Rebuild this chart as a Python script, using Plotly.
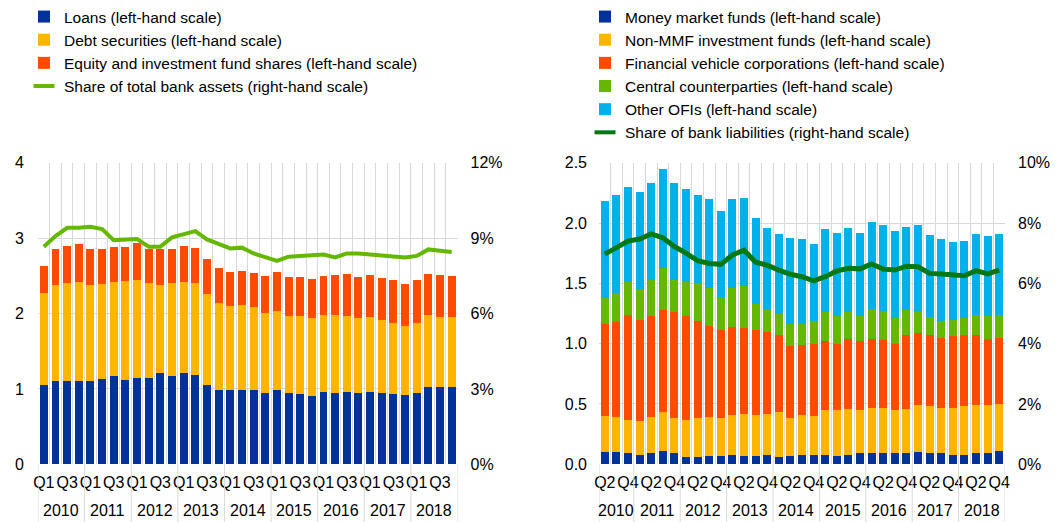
import plotly.graph_objects as go

# ---------------- data ----------------
left_years = list(range(2010, 2019))
left_periods = [f"{y} Q{q}" for y in left_years for q in (1, 2, 3, 4)]
right_years = list(range(2010, 2019))
right_periods = [f"{y} Q{q}" for y in right_years for q in (1, 2, 3, 4)][1:]

loans = [1.05, 1.11, 1.10, 1.11, 1.11, 1.13, 1.17, 1.12, 1.14, 1.14, 1.21, 1.17,
         1.21, 1.18, 1.05, 0.98, 0.98, 0.99, 0.99, 0.94, 0.99, 0.95, 0.93, 0.91,
         0.96, 0.95, 0.96, 0.95, 0.96, 0.94, 0.93, 0.92, 0.95, 1.03, 1.02, 1.03]
debt = [1.22, 1.27, 1.30, 1.31, 1.27, 1.26, 1.25, 1.31, 1.31, 1.26, 1.17, 1.23,
        1.21, 1.23, 1.21, 1.16, 1.12, 1.12, 1.09, 1.07, 1.04, 1.02, 1.04, 1.03,
        1.02, 1.03, 1.01, 0.99, 1.00, 0.98, 0.95, 0.92, 0.92, 0.95, 0.93, 0.93]
equity = [0.36, 0.48, 0.50, 0.50, 0.48, 0.47, 0.46, 0.45, 0.48, 0.46, 0.47, 0.46,
          0.48, 0.46, 0.46, 0.46, 0.45, 0.46, 0.46, 0.49, 0.52, 0.52, 0.51, 0.52,
          0.52, 0.53, 0.55, 0.55, 0.55, 0.55, 0.56, 0.55, 0.57, 0.55, 0.56, 0.54]
share_assets = [8.66, 9.08, 9.41, 9.41, 9.45, 9.36, 8.92, 8.94, 8.96, 8.66, 8.66, 9.03,
                9.15, 9.28, 8.95, 8.79, 8.59, 8.62, 8.39, 8.24, 8.09, 8.26, 8.29, 8.33,
                8.35, 8.23, 8.39, 8.39, 8.35, 8.31, 8.26, 8.23, 8.29, 8.55, 8.50, 8.45]

mmf = [0.10, 0.10, 0.09, 0.08, 0.09, 0.11, 0.09, 0.06, 0.06, 0.07, 0.07, 0.08,
       0.07, 0.07, 0.08, 0.06, 0.07, 0.08, 0.08, 0.08, 0.07, 0.08, 0.09, 0.09,
       0.09, 0.09, 0.09, 0.10, 0.09, 0.09, 0.08, 0.08, 0.09, 0.09, 0.11]
non_mmf = [0.30, 0.29, 0.28, 0.28, 0.30, 0.32, 0.29, 0.31, 0.32, 0.32, 0.31, 0.33,
           0.35, 0.34, 0.34, 0.37, 0.31, 0.33, 0.32, 0.37, 0.38, 0.38, 0.36, 0.38,
           0.38, 0.36, 0.37, 0.39, 0.39, 0.38, 0.39, 0.40, 0.40, 0.40, 0.39]
fvc = [0.76, 0.79, 0.87, 0.84, 0.84, 0.85, 0.88, 0.86, 0.81, 0.76, 0.73, 0.73,
       0.71, 0.70, 0.68, 0.64, 0.60, 0.58, 0.60, 0.57, 0.55, 0.58, 0.57, 0.57,
       0.56, 0.55, 0.61, 0.60, 0.59, 0.58, 0.59, 0.59, 0.58, 0.55, 0.55]
ccp = [0.22, 0.24, 0.27, 0.25, 0.30, 0.35, 0.27, 0.28, 0.31, 0.31, 0.27, 0.32,
       0.35, 0.22, 0.19, 0.18, 0.18, 0.17, 0.19, 0.24, 0.23, 0.22, 0.21, 0.25,
       0.24, 0.21, 0.21, 0.18, 0.15, 0.14, 0.14, 0.14, 0.17, 0.19, 0.19]
other_ofi = [0.80, 0.81, 0.79, 0.81, 0.80, 0.82, 0.80, 0.77, 0.73, 0.74, 0.72, 0.74,
             0.73, 0.71, 0.67, 0.66, 0.72, 0.71, 0.64, 0.69, 0.69, 0.70, 0.69, 0.72,
             0.71, 0.72, 0.69, 0.71, 0.68, 0.68, 0.64, 0.64, 0.67, 0.66, 0.67]
share_liab = [6.97, 7.19, 7.40, 7.47, 7.64, 7.51, 7.22, 7.00, 6.75, 6.66, 6.63, 6.94,
              7.10, 6.70, 6.60, 6.44, 6.30, 6.22, 6.08, 6.22, 6.41, 6.50, 6.48, 6.64,
              6.47, 6.44, 6.57, 6.55, 6.33, 6.31, 6.27, 6.25, 6.42, 6.31, 6.44]

left_pct_ticks = [0, 3, 6, 9, 12]
right_pct_ticks = [0, 2, 4, 6, 8, 10]

# ---------------- style ----------------
BLUE, YELLOW, RED, GREEN, CYAN, DGREEN = "#003299", "#FFB400", "#FF4B00", "#65B800", "#00B1EA", "#007816"
GRID = "#d9d9d9"
FONT = "Liberation Sans, Arial, sans-serif"
FS = 16
LFS = 15.5
W, H = 1059, 522
L_DOM = [38 / W, 457.5 / W]
R_DOM = [599 / W, 1005 / W]
Y_DOM = [(H - 464.3) / H, (H - 162.7) / H]

xl = list(range(len(left_periods)))
xr = list(range(len(right_periods)))

fig = go.Figure()

def add_bar(x, y, name, color, xa, ya, legend):
    fig.add_trace(go.Bar(x=x, y=y, name=name, marker=dict(color=color, line=dict(width=0)),
                         xaxis=xa, yaxis=ya, legend=legend))

add_bar(xl, loans, "Loans (left-hand scale)", BLUE, "x", "y", "legend")
add_bar(xl, debt, "Debt securities (left-hand scale)", YELLOW, "x", "y", "legend")
add_bar(xl, equity, "Equity and investment fund shares (left-hand scale)", RED, "x", "y", "legend")
fig.add_trace(go.Scatter(x=xl, y=share_assets, mode="lines", line=dict(color=GREEN, width=4),
                         xaxis="x", yaxis="y2", showlegend=False))
fig.add_trace(go.Scatter(x=[None], y=[None], mode="markers", name="Share of total bank assets (right-hand scale)",
                         marker=dict(symbol="line-ew", size=15, line=dict(color=GREEN, width=4)),
                         xaxis="x", yaxis="y2", legend="legend"))

add_bar(xr, mmf, "Money market funds (left-hand scale)", BLUE, "x2", "y3", "legend2")
add_bar(xr, non_mmf, "Non-MMF investment funds (left-hand scale)", YELLOW, "x2", "y3", "legend2")
add_bar(xr, fvc, "Financial vehicle corporations (left-hand scale)", RED, "x2", "y3", "legend2")
add_bar(xr, ccp, "Central counterparties (left-hand scale)", GREEN, "x2", "y3", "legend2")
add_bar(xr, other_ofi, "Other OFIs (left-hand scale)", CYAN, "x2", "y3", "legend2")
fig.add_trace(go.Scatter(x=xr, y=share_liab, mode="lines", line=dict(color=DGREEN, width=5),
                         xaxis="x2", yaxis="y4", showlegend=False))
fig.add_trace(go.Scatter(x=[None], y=[None], mode="markers", name="Share of bank liabilities (right-hand scale)",
                         marker=dict(symbol="line-ew", size=15, line=dict(color=DGREEN, width=4)),
                         xaxis="x2", yaxis="y4", legend="legend2"))

tickfont = dict(family=FONT, size=FS, color="#000")

def xaxis_cfg(dom, periods, anchor):
    n = len(periods)
    vals = list(range(0, n, 2))
    return dict(domain=dom, anchor=anchor, range=[-0.5, n - 0.5], tickmode="array",
                tickvals=vals, ticktext=[periods[i].split(" ")[1] for i in vals],
                tickangle=0, showgrid=False, zeroline=False, ticks="", tickfont=tickfont,
                ticklabelstandoff=7, automargin=False,
                minor=dict(tickmode="array", tickvals=[i - 0.5 for i in range(n + 1)],
                           showgrid=True, gridcolor=GRID, gridwidth=1, ticks=""))

fig.update_layout(
    width=W, height=H, margin=dict(l=0, r=0, t=0, b=0, pad=0, autoexpand=False),
    paper_bgcolor="white", plot_bgcolor="white",
    barmode="stack", bargap=0.32, showlegend=True,
    font=dict(family=FONT, size=FS, color="#000"),
    xaxis=xaxis_cfg(L_DOM, left_periods, "y"),
    xaxis2=xaxis_cfg(R_DOM, right_periods, "y3"),
    yaxis=dict(domain=Y_DOM, anchor="x", range=[0, 4], dtick=1, tickformat="d",
               showgrid=True, gridcolor=GRID, zeroline=False, tickfont=tickfont,
               ticks="", ticklabelstandoff=13, automargin=False),
    yaxis2=dict(domain=Y_DOM, anchor="x", overlaying="y", side="right", range=[0, 12],
                tickmode="array", tickvals=left_pct_ticks,
                ticktext=[f"{v}%" for v in left_pct_ticks], showgrid=False, zeroline=False,
                tickfont=tickfont, ticks="", ticklabelstandoff=12, automargin=False),
    yaxis3=dict(domain=Y_DOM, anchor="x2", range=[0, 2.5], dtick=0.5, tickformat=".1f",
                showgrid=True, gridcolor=GRID, zeroline=False, tickfont=tickfont,
                ticks="", ticklabelstandoff=11, automargin=False),
    yaxis4=dict(domain=Y_DOM, anchor="x2", overlaying="y3", side="right", range=[0, 10],
                tickmode="array", tickvals=right_pct_ticks,
                ticktext=[f"{v}%" for v in right_pct_ticks], showgrid=False, zeroline=False,
                tickfont=tickfont, ticks="", ticklabelstandoff=12, automargin=False),
    legend=dict(x=24 / W, y=1, xanchor="left", yanchor="top", traceorder="normal",
                font=dict(family=FONT, size=LFS, color="#000"), bgcolor="rgba(0,0,0,0)",
                itemclick=False, itemdoubleclick=False),
    legend2=dict(x=585 / W, y=1, xanchor="left", yanchor="top", traceorder="normal",
                 font=dict(family=FONT, size=LFS, color="#000"), bgcolor="rgba(0,0,0,0)",
                 itemclick=False, itemdoubleclick=False),
)

# year labels and group dividers under the axes
shapes, annotations = [], []

def add_years(periods, xref):
    years = [p.split(" ")[0] for p in periods]
    uniq = sorted(set(years))
    bounds = [-0.5]
    for yv in uniq:
        idx = [i for i, v in enumerate(years) if v == yv]
        annotations.append(dict(x=(idx[0] + idx[-1]) / 2, y=12 / H, xref=xref, yref="paper",
                                text=yv, showarrow=False, font=tickfont, yanchor="middle"))
        bounds.append(idx[-1] + 0.5)
    for b in bounds:
        shapes.append(dict(type="line", xref=xref, yref="paper", x0=b, x1=b, y0=0, y1=Y_DOM[0],
                           line=dict(color=GRID, width=1)))

add_years(left_periods, "x")
add_years(right_periods, "x2")
fig.update_layout(shapes=shapes, annotations=annotations)

fig.write_html("out.html", config={"displayModeBar": False},
               post_script="document.body.style.margin='0';document.body.style.padding='0';")
